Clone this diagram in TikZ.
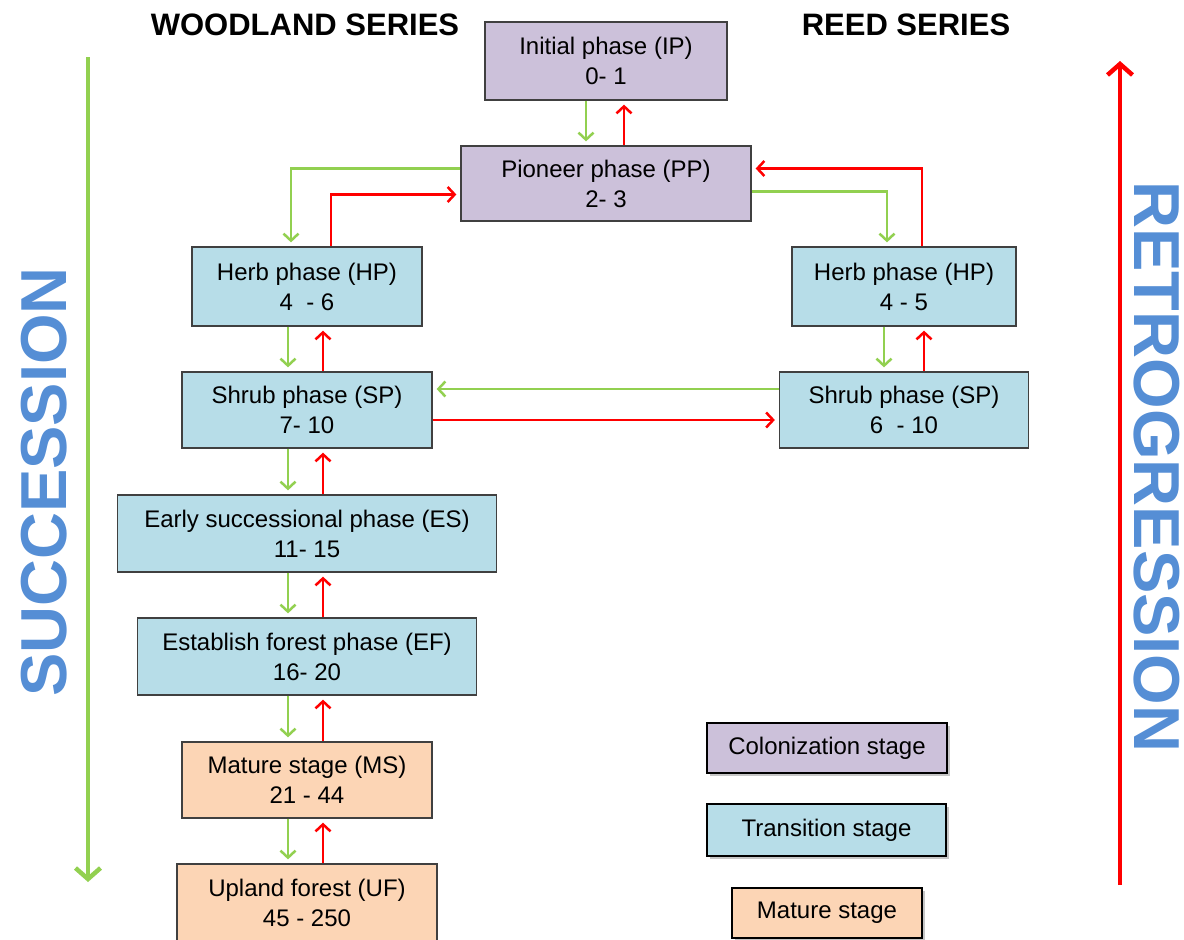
\documentclass[tikz,border=0pt]{standalone}
\usepackage{fontspec}
\setmainfont{Liberation Sans}
\usetikzlibrary{arrows.meta,shadows}

\definecolor{colfill}{HTML}{CCC1DA}
\definecolor{trafill}{HTML}{B7DDE8}
\definecolor{matfill}{HTML}{FCD5B5}
\definecolor{sgreen}{HTML}{92D050}
\definecolor{sred}{HTML}{FF0000}
\definecolor{sblue}{HTML}{558ED5}
\definecolor{bordergray}{HTML}{404040}

\tikzset{
  phase/.style={draw=bordergray,line width=1.3pt,align=center,inner sep=2pt,
    font=\fontsize{24}{30}\selectfont},
  colph/.style={phase,fill=colfill},
  traph/.style={phase,fill=trafill},
  matph/.style={phase,fill=matfill},
  legbox/.style={draw=black,line width=2pt,inner sep=2pt,
    font=\fontsize{24}{30}\selectfont,
    drop shadow={shadow xshift=3pt,shadow yshift=-3pt,opacity=0.45}},
  gr/.style={draw=sgreen,line width=2.5pt,shorten >=4pt,
    -{Straight Barb[length=7pt,width=15pt]}},
  rd/.style={draw=sred,line width=2.5pt,shorten >=4pt,
    -{Straight Barb[length=7pt,width=15pt]}},
  bigarrow/.style={line width=4.5pt,-{Straight Barb[length=11pt,width=25pt]}},
  header/.style={font=\fontsize{31}{31}\selectfont\bfseries,anchor=base},
  sidetext/.style={font=\fontsize{65}{65}\selectfont\bfseries,text=sblue,inner sep=0pt}
}

\begin{document}
\begin{tikzpicture}[x=1pt,y=-1pt]
\useasboundingbox (0,0) rectangle (1184,940);
% headers
\node[header] (wood) at (305,35) {WOODLAND SERIES};
\node[header] (reed) at (906,35) {REED SERIES};
% colonization
\node[colph,minimum width=242pt,minimum height=78pt] (IP) at (606,61) {Initial phase (IP)\\0- 1};
\node[colph,minimum width=290pt,minimum height=75pt] (PP) at (606,183.5) {Pioneer phase (PP)\\2- 3};
% woodland series
\node[traph,minimum width=230pt,minimum height=79pt] (HPw) at (307,286.5) {Herb phase (HP)\\4 \ - 6};
\node[traph,minimum width=250pt,minimum height=76pt] (SPw) at (307,410) {Shrub phase (SP)\\7- 10};
\node[traph,minimum width=379pt,minimum height=77pt] (ES) at (307,533.5) {Early successional phase (ES)\\11- 15};
\node[traph,minimum width=339pt,minimum height=77pt] (EF) at (307,656.5) {Establish forest phase (EF)\\16- 20};
\node[matph,minimum width=250pt,minimum height=76pt] (MS) at (307,780) {Mature stage (MS)\\21 - 44};
\node[matph,minimum width=260pt,minimum height=78pt] (UF) at (307,903) {Upland forest (UF)\\45 - 250};
% reed series
\node[traph,minimum width=224pt,minimum height=79pt] (HPr) at (904,286.5) {Herb phase (HP)\\4 - 5};
\node[traph,minimum width=249pt,minimum height=76pt] (SPr) at (904,410) {Shrub phase (SP)\\6 \ - 10};
% legend
\node[legbox,fill=colfill,minimum width=240pt,minimum height=50pt] (lcol) at (827,748) {Colonization stage};
\node[legbox,fill=trafill,minimum width=239pt,minimum height=52pt] (ltra) at (826.5,830) {Transition stage};
\node[legbox,fill=matfill,minimum width=190pt,minimum height=50pt] (lmat) at (827,913) {Mature stage};
% side labels
\node[sidetext,rotate=90] (succ) at (44,482) {SUCCESSION};
\node[sidetext,rotate=-90] (retro) at (1157,467) {RETROGRESSION};
\coordinate (gtop) at (88,57);
\coordinate (gbot) at (88,882);
\coordinate (rbot) at (1120,885);
\coordinate (rtop) at (1120,61);
\draw[bigarrow,sgreen] (gtop) -- (gbot);
\draw[bigarrow,sred] (rbot) -- (rtop);
% IP <-> PP
\draw[gr] ([xshift=-20pt]IP.south) -- ([xshift=-20pt]PP.north);
\draw[rd] ([xshift=18pt]PP.north) -- ([xshift=18pt]IP.south);
% PP <-> herb phases
\draw[gr] ([yshift=15pt]PP.west) -| ([xshift=-16pt]HPw.north);
\draw[rd] ([xshift=24pt]HPw.north) |- ([yshift=-11pt]PP.west);
\draw[gr] ([yshift=-8pt]PP.east) -| ([xshift=-17pt]HPr.north);
\draw[rd] ([xshift=18pt]HPr.north) |- ([yshift=15pt]PP.east);
% woodland column
\foreach \a/\b in {HPw/SPw,SPw/ES,ES/EF,EF/MS,MS/UF}{
  \draw[gr] ([xshift=-19pt]\a.south) -- ([xshift=-19pt]\b.north);
  \draw[rd] ([xshift=16pt]\b.north) -- ([xshift=16pt]\a.south);
}
% reed column
\draw[gr] ([xshift=-20pt]HPr.south) -- ([xshift=-20pt]SPr.north);
\draw[rd] ([xshift=20pt]SPr.north) -- ([xshift=20pt]HPr.south);
% shrub phases
\draw[gr] ([yshift=21pt]SPr.west) -- ([yshift=21pt]SPr.west -| SPw.east);
\draw[rd] ([yshift=-10pt]SPw.east) -- ([yshift=-10pt]SPw.east -| SPr.west);
\end{tikzpicture}
\end{document}
